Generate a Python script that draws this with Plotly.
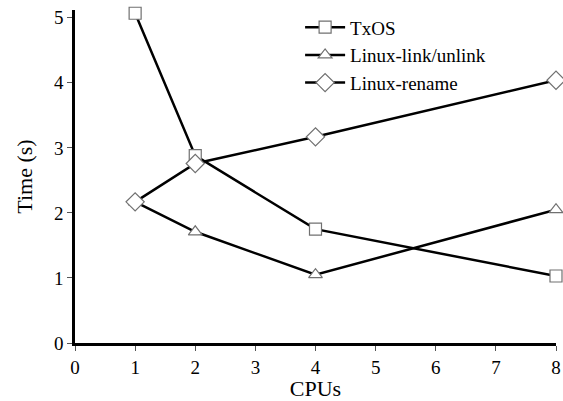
import plotly.graph_objects as go

cpus = [1, 2, 4, 8]
txos = [5.07, 2.88, 1.75, 1.03]
link_unlink = [2.17, 1.71, 1.05, 2.05]
rename = [2.17, 2.76, 3.17, 4.04]

x_ticks = [0, 1, 2, 3, 4, 5, 6, 7, 8]
y_ticks = [0, 1, 2, 3, 4, 5]

font = "Liberation Serif"

fig = go.Figure()
series = [("TxOS", txos, "square"), ("Linux-link/unlink", link_unlink, "triangle-up"),
          ("Linux-rename", rename, "diamond")]
for name, vals, sym in series:
    fig.add_trace(go.Scatter(
        x=cpus, y=vals, name=name, mode="lines+markers",
        line=dict(color="black", width=2.5),
        marker=dict(symbol=sym, size=12 if sym != "diamond" else 14, color="white",
                    line=dict(color="#707070", width=1.2)),
        cliponaxis=False,
    ))

fig.update_layout(
    width=563, height=401,
    margin=dict(l=75, r=7, t=10, b=58),
    plot_bgcolor="white", paper_bgcolor="white",
    font=dict(family=font, size=19, color="black"),
    showlegend=True,
    legend=dict(x=0.468, y=1.005, xanchor="left", yanchor="top",
                bgcolor="rgba(0,0,0,0)", font=dict(size=19), tracegroupgap=0,
                itemwidth=40),
    xaxis=dict(range=[0, 8], tickvals=x_ticks, showgrid=False, zeroline=False,
               showline=True, linecolor="black", linewidth=2.5,
               ticks="outside", ticklen=5, tickcolor="#555", tickwidth=1,
               automargin=False, ticklabeloverflow="allow",
               title=dict(text="CPUs", font=dict(size=22), standoff=0)),
    yaxis=dict(range=[0, 5.12], tickvals=y_ticks, showgrid=False, zeroline=False,
               showline=True, linecolor="black", linewidth=2.5,
               ticks="outside", ticklen=5, tickcolor="#555", tickwidth=1,
               automargin=False,
               title=dict(text="Time (s)", font=dict(size=22), standoff=16)),
)

# remove the default page margin so the figure sits at the window's top-left corner
fig.write_html("out.html", config={"displayModeBar": False},
               post_script="document.body.style.margin='0';document.body.style.overflow='hidden';")
